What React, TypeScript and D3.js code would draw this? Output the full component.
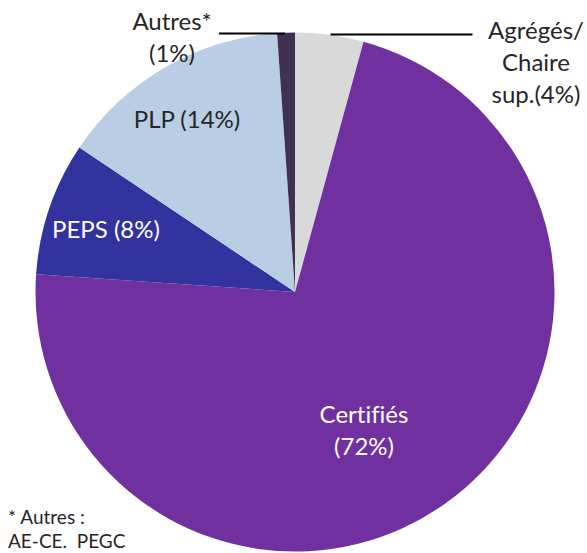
import React from 'react';
import * as d3 from 'd3';

// slices clockwise from 12 o'clock
const categories = ['Agrégés', 'Certifiés', 'PEPS', 'PLP', 'Autres'];
const shares = [4.25, 71.8, 8.3, 14.5, 1.1];
const shownPct = ['4%', '72%', '8%', '14%', '1%'];
const colors = ['#d9d9d9', '#7030a0', '#3333a0', '#b9cde5', '#403151'];
const footnote = ['* Autres :', 'AE-CE.  PEGC'];

const W = 587;
const H = 553;
const cx = 295;
const cy = 292;
const radius = 259.5;
const font = "Lato, 'Open Sans', sans-serif";

// label blocks: lines, anchor point, colour
const labels = [
  { lines: ['Agrégés/', 'Chaire', 'sup.(' + shownPct[0] + ')'], x: 536, y: 39, fill: '#262626' },
  { lines: [categories[1], '(' + shownPct[1] + ')'], x: 364, y: 423, fill: '#ffffff' },
  { lines: [categories[2] + ' (' + shownPct[2] + ')'], x: 106, y: 238, fill: '#ffffff' },
  { lines: [categories[3] + ' (' + shownPct[3] + ')'], x: 187, y: 128, fill: '#262626' },
  { lines: [categories[4] + '*', '(' + shownPct[4] + ')'], x: 172, y: 30, fill: '#262626' },
];

export default function App() {
  const pie = d3
    .pie<number>()
    .sort(null)
    .startAngle(0)
    .endAngle(2 * Math.PI);
  const arcs = pie(shares);
  const arc = d3.arc<d3.PieArcDatum<number>>().innerRadius(0).outerRadius(radius);

  // leader lines hug the top of the pie for the two thin slices
  const topY = cy - radius;
  const autresArc = arcs[4];
  const agregArc = arcs[0];
  const autresX = cx + radius * Math.sin(autresArc.startAngle);
  const agregX = cx + radius * Math.sin(agregArc.endAngle);

  return (
    <svg width={W} height={H} style={{ position: 'absolute', left: 0, top: 0 }}>
      <rect width={W} height={H} fill="#ffffff" />
      <g transform={'translate(' + cx + ',' + cy + ')'}>
        {arcs.map((a, i) => (
          <path key={categories[i]} d={arc(a) || ''} fill={colors[i]} />
        ))}
      </g>
      <line x1={autresX - 58} x2={cx - 10} y1={topY + 1} y2={topY + 1} stroke="#000" strokeWidth={2} />
      <line x1={agregX - 33} x2={agregX + 109} y1={topY + 2} y2={topY + 2} stroke="#000" strokeWidth={2} />
      {labels.map((l, i) => (
        <text
          key={i}
          x={l.x}
          y={l.y}
          fill={l.fill}
          textAnchor="middle"
          fontFamily={font}
          fontSize={24}
          style={{ fontVariantLigatures: 'none' }}
        >
          {l.lines.map((t, j) => (
            <tspan key={j} x={l.x} dy={j === 0 ? 0 : 32}>
              {t}
            </tspan>
          ))}
        </text>
      ))}
      <text x={8} y={524} fill="#262626" fontFamily={font} fontSize={19} style={{ whiteSpace: 'pre' }}>
        {footnote.map((t, j) => (
          <tspan key={j} x={8} dy={j === 0 ? 0 : 24}>
            {t}
          </tspan>
        ))}
      </text>
    </svg>
  );
}
